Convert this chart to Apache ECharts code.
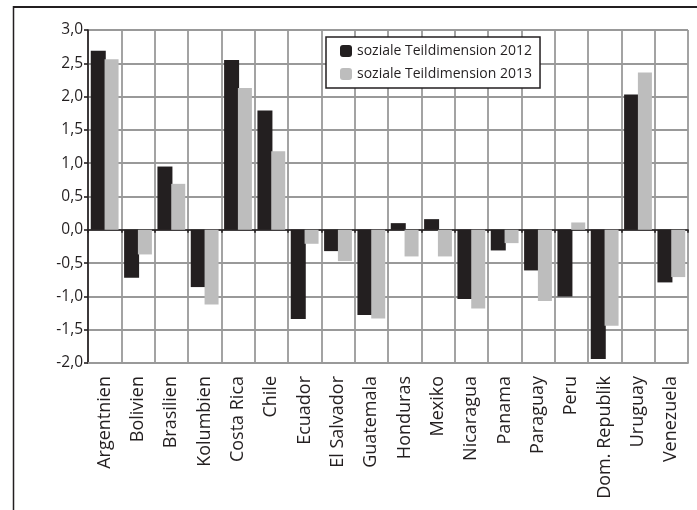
<!DOCTYPE html>
<html>
<head>
<meta charset="utf-8">
<script src="https://cdn.jsdelivr.net/npm/echarts@6/dist/echarts.min.js"></script>
<style>html,body{margin:0;padding:0;background:#fff;}#c{width:697px;height:510px;}</style>
</head>
<body>
<div id="c"></div>
<script>
var categories = ['Argentnien','Bolivien','Brasilien','Kolumbien','Costa Rica','Chile','Ecuador','El Salvador','Guatemala','Honduras','Mexiko','Nicaragua','Panama','Paraguay','Peru','Dom. Republik','Uruguay','Venezuela'];
var values2012 = [2.69,-0.72,0.95,-0.86,2.55,1.79,-1.34,-0.32,-1.28,0.10,0.16,-1.04,-0.31,-0.61,-1.00,-1.94,2.03,-0.79];
var values2013 = [2.56,-0.37,0.69,-1.12,2.13,1.18,-0.21,-0.47,-1.33,-0.40,-0.40,-1.18,-0.20,-1.07,0.11,-1.44,2.36,-0.71];
var seriesNames = ['soziale Teildimension 2012','soziale Teildimension 2013'];

var FONT = 'Open Sans';
var chart = echarts.init(document.getElementById('c'));
chart.setOption({
  animation: false,
  backgroundColor: '#fff',
  textStyle: {fontFamily: FONT},
  graphic: [
    {type:'line', shape:{x1:13,y1:7,x2:697,y2:7}, style:{stroke:'#231f20', lineWidth:2}},
    {type:'line', shape:{x1:13.5,y1:6,x2:13.5,y2:510}, style:{stroke:'#231f20', lineWidth:1.5}}
  ],
  legend: {
    orient: 'vertical',
    left: 326, top: 37,
    padding: [7, 8, 7, 14],
    itemWidth: 12, itemHeight: 12, itemGap: 9,
    borderColor: '#231f20', borderWidth: 1.5,
    backgroundColor: '#fff',
    textStyle: {fontFamily: FONT, fontSize: 14, color: '#231f20'},
    data: seriesNames
  },
  grid: {left: 88, right: 9, top: 30, bottom: 147},
  xAxis: [{
    type: 'category',
    data: categories,
    position: 'bottom',
    axisLine: {show: true, onZero: false, lineStyle: {color: '#999', width: 1.8}},
    axisTick: {show: false},
    splitLine: {show: true, interval: 0, lineStyle: {color: '#999', width: 1.8}},
    axisLabel: {rotate: 90, interval: 0, fontSize: 18, color: '#231f20', margin: 13, fontFamily: FONT}
  }, {
    type: 'category',
    data: categories,
    position: 'bottom',
    axisLine: {show: true, onZero: true, lineStyle: {color: '#231f20', width: 1.6}},
    axisTick: {show: true, interval: 0, length: 3, lineStyle: {color: '#231f20', width: 1.6}},
    axisLabel: {show: false},
    splitLine: {show: false}
  }],
  yAxis: {
    type: 'value',
    min: -2, max: 3, interval: 0.5,
    axisLine: {show: true, lineStyle: {color: '#231f20', width: 1.6}},
    axisTick: {show: true, length: 4, lineStyle: {color: '#231f20', width: 1.6}},
    splitLine: {show: true, lineStyle: {color: '#999', width: 1.8}},
    axisLabel: {
      fontSize: 15.5, color: '#231f20', margin: 5, fontFamily: FONT,
      formatter: function (v) {
        var s = Math.abs(v).toFixed(1).replace('.', ',');
        return v < 0 ? '-' + s : s;
      }
    }
  },
  series: [{
    name: seriesNames[0], type: 'bar', data: values2012,
    barWidth: 15, barGap: '-8%',
    itemStyle: {color: '#231f20'}
  }, {
    name: seriesNames[1], type: 'bar', data: values2013,
    barWidth: 14,
    itemStyle: {color: '#bdbdbd'}
  }]
});
</script>
</body>
</html>
